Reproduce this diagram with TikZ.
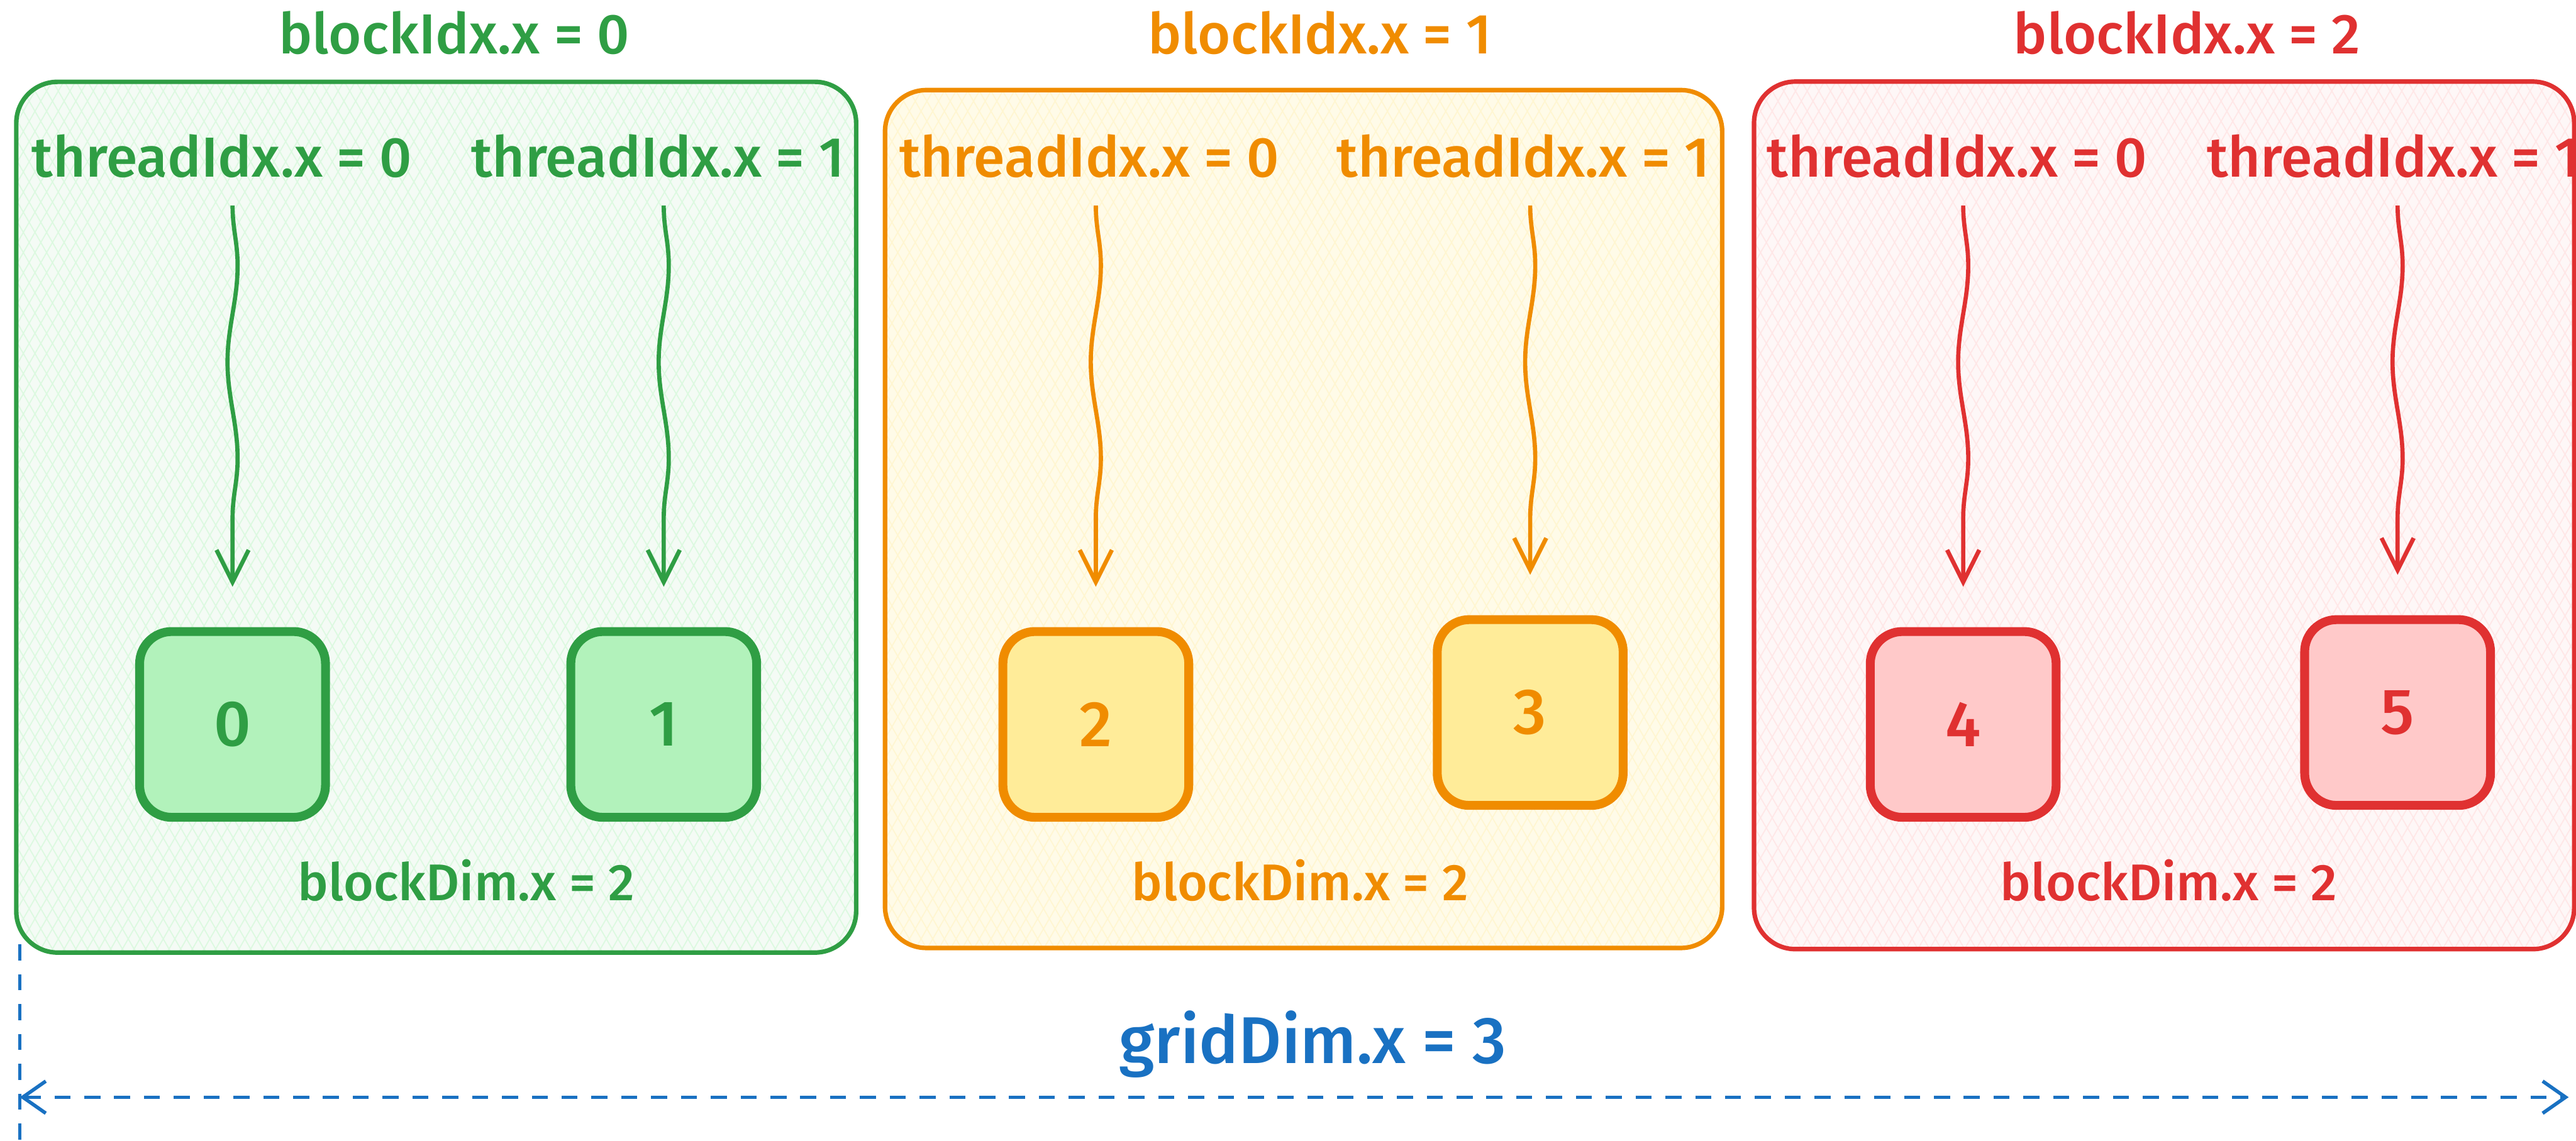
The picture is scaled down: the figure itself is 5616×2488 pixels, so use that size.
\documentclass[tikz,border=0pt]{standalone}
\usepackage{fontspec}
\setmainfont{Fira Sans}[UprightFont={* Medium}]
\usetikzlibrary{arrows.meta,calc,decorations.pathmorphing,patterns.meta}
\definecolor{grnline}{HTML}{2F9E44}
\definecolor{grnfill}{HTML}{B2F2BB}
\definecolor{grnbg}{HTML}{F4FBF5}
\definecolor{orgline}{HTML}{F08C00}
\definecolor{orgfill}{HTML}{FFEC99}
\definecolor{orgbg}{HTML}{FFFBE8}
\definecolor{redline}{HTML}{E03131}
\definecolor{redfill}{HTML}{FFC9C9}
\definecolor{redbg}{HTML}{FEF7F7}
\definecolor{gridblue}{HTML}{1971C2}
\begin{document}
\begin{tikzpicture}[x=0.01cm, y=-0.01cm,
  hatch/.style={preaction={pattern={Lines[angle=60,distance=0.22cm,line width=0.7pt]}, pattern color=#1},
    preaction={pattern={Lines[angle=-60,distance=0.22cm,line width=0.7pt]}, pattern color=#1}},
  block/.style={preaction={fill=#1bg}, hatch=#1fill!45, draw=#1line, line width=2.8pt,
    rounded corners=0.9cm, inner sep=0},
  cell/.style={draw=#1line, fill=#1fill, text=#1line, line width=5.5pt, rounded corners=0.7cm,
    minimum size=4.05cm, font=\fontsize{40}{48}\selectfont},
  lbl/.style={text=#1line, inner sep=0, font=\fontsize{35}{42}\selectfont},
  wave/.style={draw=#1line, line width=2.6pt, -{Straight Barb[length=0.7cm,width=0.7cm]},
    decorate, decoration={snake, amplitude=1.1mm, segment length=4.2cm, post length=1.2cm}},
  dim/.style={draw=gridblue, line width=2.2pt, dash pattern=on 0.35cm off 0.3cm}]
  \useasboundingbox (0,0) rectangle (5616,2488);

  \node[block=grn, minimum width=18.3cm, minimum height=18.98cm] (blk0) at (951,1128) {};
  \node[block=org, minimum width=18.24cm, minimum height=18.7cm] (blk1) at (2842,1132) {};
  \node[block=red, minimum width=17.87cm, minimum height=18.91cm] (blk2) at (4718,1124) {};

  \node[lbl=grn] (bidx0) at (990,72) {blockIdx.x = 0};
  \node[lbl=org] (bidx1) at (2877,72) {blockIdx.x = 1};
  \node[lbl=red] (bidx2) at (4768,72) {blockIdx.x = 2};

  \node[lbl=grn] (tid0) at (484,340) {threadIdx.x = 0};
  \node[lbl=grn] (tid1) at (1434,340) {threadIdx.x = 1};
  \node[lbl=org] (tid2) at (2375,340) {threadIdx.x = 0};
  \node[lbl=org] (tid3) at (3321,340) {threadIdx.x = 1};
  \node[lbl=red] (tid4) at (4267,340) {threadIdx.x = 0};
  \node[lbl=red] (tid5) at (5218,340) {threadIdx.x = 1};

  \node[cell=grn] (c0) at (507,1580) {0};
  \node[cell=grn] (c1) at (1447,1580) {1};
  \node[cell=org] (c2) at (2389,1580) {2};
  \node[cell=org] (c3) at (3336,1554) {3};
  \node[cell=red] (c4) at (4280,1580) {4};
  \node[cell=red] (c5) at (5227,1554) {5};

  \foreach \i/\c in {0/grn,1/grn,2/org,3/org,4/red,5/red}
    \draw[wave=\c] ($(c\i.north |- tid\i.south)+(0,60)$) -- ($(c\i.north)+(0,-88)$);

  \node[lbl=grn, font=\fontsize{32}{40}\selectfont] (bdim0) at (1017,1920) {blockDim.x = 2};
  \node[lbl=org, font=\fontsize{32}{40}\selectfont] (bdim1) at (2834,1920) {blockDim.x = 2};
  \node[lbl=red, font=\fontsize{32}{40}\selectfont] (bdim2) at (4728,1920) {blockDim.x = 2};

  \coordinate (gtop) at (43,2060);
  \coordinate (gbot) at (43,2488);
  \coordinate (gl) at (43,2393);
  \coordinate (gr) at (5600,2393);
  \draw[dim] (gtop) -- (gbot);
  \draw[dim, {Straight Barb[length=0.5cm,width=0.7cm]}-{Straight Barb[length=0.5cm,width=0.7cm]}] (gl) -- (gr);
  \node[text=gridblue, inner sep=0, font=\fontsize{41}{49}\selectfont] (gdim) at (2862,2278) {gridDim.x = 3};
\end{tikzpicture}
\end{document}
